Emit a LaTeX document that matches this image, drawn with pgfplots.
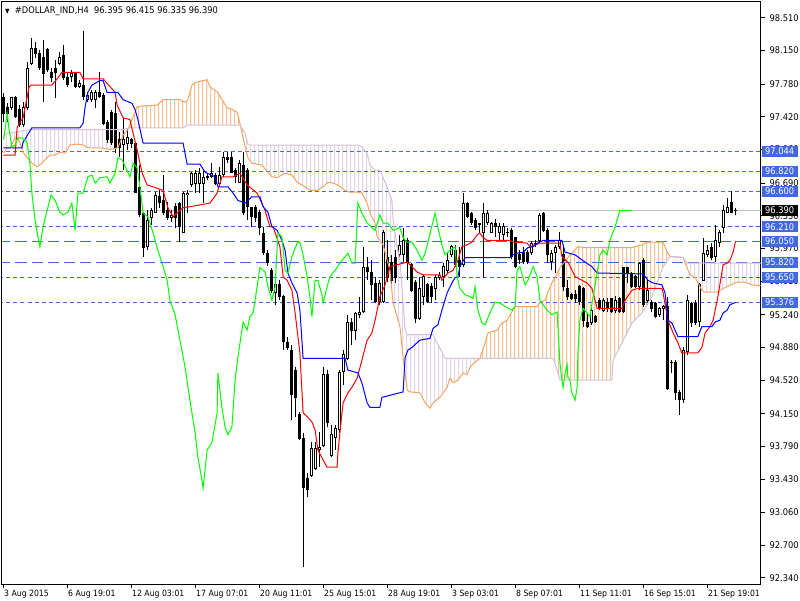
\documentclass[border=0pt]{standalone}
\usepackage{fontspec}
\setmainfont{DejaVu Sans}[FakeStretch=0.9]
\usepackage{pgfplots}
\pgfplotsset{compat=1.18}
\usepackage{pgfplotstable}
\usepgfplotslibrary{fillbetween}
\usetikzlibrary{patterns}
\definecolor{sandy}{RGB}{244,164,96}
\definecolor{thist}{RGB}{216,191,216}
\definecolor{lvl}{RGB}{65,105,225}
\definecolor{bidc}{RGB}{192,192,192}
\definecolor{limeg}{RGB}{0,255,0}
\definecolor{redl}{RGB}{255,0,0}
\definecolor{bluel}{RGB}{0,0,255}

\pgfdeclarepatternformonly{vhatch}{\pgfpoint{0pt}{0pt}}{\pgfpoint{4pt}{700pt}}{\pgfpoint{4pt}{700pt}}{%
  \pgfsetlinewidth{1pt}%
  \pgfpathmoveto{\pgfpoint{3.5pt}{0pt}}%
  \pgfpathlineto{\pgfpoint{3.5pt}{700pt}}%
  \pgfusepath{stroke}%
}

\pgfplotstableread{
i O H L C
0 97.64 97.68 97.36 97.46
1 97.52 97.57 97.36 97.46
2 97.52 97.64 97.50 97.63
3 97.63 97.65 97.41 97.42
4 97.50 97.55 97.31 97.33
5 97.33 97.58 97.31 97.52
6 97.52 98.02 97.50 97.96
7 98.01 98.29 97.99 98.18
8 98.18 98.25 98.07 98.12
9 98.12 98.16 97.94 97.96
10 98.08 98.27 97.58 97.90
11 98.16 98.18 97.91 97.94
12 97.91 97.96 97.80 97.85
13 97.96 98.05 97.63 97.91
14 98.01 98.14 97.99 98.08
15 98.10 98.21 97.83 97.85
16 97.86 97.90 97.75 97.77
17 97.86 97.94 97.80 97.90
18 97.90 97.91 97.74 97.75
19 97.75 97.83 97.74 97.79
20 97.77 98.37 97.61 97.64
21 97.61 97.69 97.58 97.66
22 97.61 97.72 97.58 97.69
23 97.61 97.72 97.52 97.69
24 97.69 97.91 97.63 97.64
25 97.66 97.68 97.33 97.35
26 97.36 97.39 97.13 97.17
27 97.47 97.50 97.11 97.14
28 97.46 97.58 97.02 97.08
29 97.17 97.25 96.98 97.08
30 97.11 97.41 96.83 97.17
31 97.13 97.30 97.06 97.19
32 97.17 97.19 97.08 97.13
33 97.13 97.14 96.58 96.59
34 96.64 96.89 96.32 96.34
35 96.36 96.37 95.88 95.98
36 95.99 96.39 95.95 96.28
37 96.31 96.42 96.23 96.39
38 96.37 96.59 96.36 96.56
39 96.54 96.61 96.42 96.48
40 96.50 96.78 96.34 96.37
41 96.39 96.48 96.28 96.31
42 96.31 96.39 96.26 96.34
43 96.43 96.47 96.20 96.31
44 96.47 96.48 96.04 96.21
45 96.15 96.59 96.14 96.58
46 96.56 96.61 96.36 96.58
47 96.67 96.81 96.65 96.80
48 96.69 96.83 96.58 96.80
49 96.69 96.86 96.58 96.80
50 96.69 96.83 96.47 96.75
51 96.76 96.80 96.72 96.75
52 96.76 96.91 96.75 96.80
53 96.78 96.80 96.67 96.69
54 96.69 96.87 96.67 96.78
55 96.78 97.03 96.76 96.97
56 96.97 97.03 96.91 96.95
57 96.97 97.03 96.80 96.81
58 96.83 96.86 96.69 96.76
59 96.70 96.95 96.69 96.91
60 96.89 97.03 96.34 96.36
61 96.83 96.86 96.28 96.43
62 96.42 96.43 96.21 96.32
63 96.42 96.45 96.26 96.31
64 96.37 96.39 96.12 96.20
65 96.14 96.21 95.90 95.92
66 95.92 95.95 95.78 95.81
67 95.73 95.76 95.48 95.51
68 95.48 95.66 95.35 95.57
69 95.57 95.62 95.40 95.44
70 95.44 95.46 94.85 94.94
71 94.94 95.00 94.85 94.88
72 94.85 94.91 94.08 94.36
73 94.63 94.66 94.11 94.33
74 94.14 94.17 93.86 93.88
75 93.88 93.94 92.46 93.33
76 93.44 93.50 93.23 93.31
77 93.47 93.84 93.45 93.77
78 93.55 93.84 93.53 93.77
79 93.75 93.95 93.56 93.78
80 93.80 94.66 93.78 94.58
81 94.58 94.63 94.00 94.05
82 93.69 94.03 93.67 93.92
83 93.89 94.03 93.75 93.99
84 93.97 94.63 93.94 94.61
85 94.61 94.85 94.47 94.80
86 94.76 95.24 94.74 95.16
87 95.16 95.20 94.91 95.07
88 95.07 95.27 94.96 95.26
89 95.24 95.44 95.20 95.27
90 95.27 95.99 95.26 95.76
91 95.76 95.88 95.62 95.71
92 95.71 95.84 95.40 95.57
93 95.59 95.66 95.37 95.38
94 95.38 95.62 95.35 95.59
95 95.38 96.17 95.37 96.15
96 95.87 96.06 95.60 95.65
97 95.82 95.90 95.57 95.62
98 95.87 95.95 95.59 95.65
99 95.90 96.12 95.84 96.01
100 95.90 96.20 95.82 96.06
101 96.06 96.09 95.62 95.81
102 95.79 95.81 95.49 95.51
103 95.60 95.62 95.15 95.20
104 95.20 95.66 95.18 95.53
105 95.44 95.68 95.35 95.66
106 95.57 95.59 95.37 95.38
107 95.55 95.59 95.37 95.44
108 95.53 95.68 95.40 95.65
109 95.65 95.71 95.62 95.67
110 95.66 95.81 95.55 95.77
111 95.73 95.92 95.70 95.84
112 95.90 96.01 95.88 95.99
113 95.95 96.01 95.77 95.79
114 95.84 95.99 95.66 95.77
115 95.79 96.58 95.77 96.47
116 96.47 96.48 96.31 96.32
117 96.36 96.37 96.23 96.25
118 96.28 96.31 96.17 96.20
119 96.25 96.25 96.14 96.23
120 96.15 96.47 95.65 96.36
121 96.25 96.39 96.23 96.36
122 96.15 96.26 96.14 96.25
123 96.25 96.30 96.10 96.21
124 96.15 96.25 96.05 96.21
125 96.12 96.25 96.06 96.21
126 96.14 96.20 96.10 96.15
127 96.17 96.20 95.85 95.88
128 96.09 96.10 95.75 95.77
129 95.90 95.95 95.80 95.85
130 95.93 95.99 95.80 95.82
131 95.93 95.95 95.80 95.82
132 95.92 96.05 95.90 96.03
133 96.01 96.06 95.99 96.03
134 96.06 96.36 96.04 96.34
135 96.36 96.37 96.15 96.17
136 96.17 96.20 95.81 95.90
137 95.82 95.95 95.73 95.92
138 95.92 96.01 95.70 95.98
139 95.99 96.15 95.97 96.06
140 95.90 96.01 95.50 95.55
141 95.53 95.62 95.40 95.44
142 95.46 95.48 95.40 95.42
143 95.47 95.51 95.37 95.42
144 95.55 95.57 95.35 95.38
145 95.53 95.55 95.11 95.18
146 95.16 95.26 95.09 95.11
147 95.15 95.31 95.13 95.29
148 95.22 95.24 95.15 95.16
149 95.40 95.42 95.29 95.31
150 95.29 95.42 95.27 95.40
151 95.38 95.42 95.27 95.31
152 95.42 95.43 95.26 95.27
153 95.29 95.45 95.26 95.40
154 95.42 95.44 95.26 95.27
155 95.76 95.77 95.26 95.27
156 95.76 95.77 95.59 95.70
157 95.70 95.71 95.53 95.55
158 95.66 95.68 95.53 95.55
159 95.55 95.82 95.51 95.81
160 95.84 95.87 95.33 95.35
161 95.40 95.62 95.35 95.51
162 95.38 95.40 95.27 95.31
163 95.37 95.38 95.20 95.22
164 95.24 95.33 95.22 95.31
165 95.31 95.35 95.18 95.33
166 95.33 95.44 94.41 94.43
167 94.72 94.74 94.60 94.71
168 94.72 94.74 94.30 94.38
169 94.38 94.41 94.14 94.30
170 94.30 94.88 94.27 94.85
171 94.83 95.46 94.80 95.40
172 95.37 95.38 95.11 95.15
173 95.37 95.40 95.13 95.15
174 95.16 95.59 95.11 95.57
175 95.62 96.09 95.62 95.92
176 95.90 96.01 95.88 95.95
177 95.98 96.03 95.84 95.87
178 95.88 96.23 95.82 96.06
179 96.04 96.17 95.99 96.15
180 96.20 96.45 96.14 96.39
181 96.37 96.53 96.36 96.42
182 96.48 96.60 96.36 96.37
183 96.395 96.415 96.335 96.390
}\candles

\newcommand{\spanA}{(0,97.02)(0.9,97.08)(1.6,97.08)(2.9,97.19)(3.6,97.19)(4.9,97.03)(5.9,96.97)(7.1,96.91)(8.4,96.87)(9.6,96.91)(10.9,96.97)(11.6,97.00)(12.9,97.00)(14.1,97.03)(15.4,97.02)(16.6,97.11)(18.4,97.12)(19.9,97.11)(21.1,97.08)(24.1,97.08)(26.6,97.06)(28.6,97.08)(29.9,97.22)(31.1,97.28)(32.4,97.42)(33.4,97.53)(34.6,97.54)(38.4,97.55)(39.9,97.61)(44.1,97.61)(45.4,97.58)(46.1,97.61)(47.1,97.77)(47.9,97.80)(50.9,97.83)(51.6,97.75)(53.6,97.69)(54.6,97.61)(55.9,97.52)(57.4,97.50)(58.4,97.47)(59.1,97.35)(60.4,97.09)(61.1,96.97)(62.1,96.91)(64.6,96.89)(67.1,96.76)(68.4,96.75)(70.4,96.80)(72.1,96.78)(73.4,96.70)(75.4,96.65)(76.6,96.61)(78.4,96.61)(79.9,96.65)(81.1,96.70)(82.4,96.69)(83.6,96.67)(85.4,96.61)(86.6,96.59)(88.6,96.59)(89.6,96.58)(90.9,96.47)(91.6,96.36)(92.9,96.25)(93.4,96.10)(94.9,96.01)(96.6,95.73)(97.4,95.37)(99.1,95.11)(99.9,94.77)(100.9,94.41)(101.6,94.39)(104.1,94.38)(105.4,94.27)(106.6,94.21)(107.4,94.27)(109.1,94.33)(110.9,94.44)(111.6,94.54)(112.4,94.49)(113.6,94.52)(114.9,94.60)(115.9,94.58)(116.6,94.66)(117.9,94.72)(119.1,94.76)(120.4,94.93)(121.1,95.04)(123.4,95.07)(124.6,95.15)(125.9,95.18)(127.1,95.27)(127.9,95.33)(133.4,95.33)(134.1,95.38)(135.4,95.40)(136.1,95.49)(137.1,95.59)(137.9,95.65)(139.1,95.76)(141.1,95.87)(143.6,95.99)(145.4,95.98)(157.1,95.98)(159.6,96.01)(160.9,96.04)(164.9,96.04)(165.9,95.93)(166.6,95.88)(169.9,95.87)(171.6,95.68)(172.9,95.65)(174.6,95.51)(175.4,95.49)(178.6,95.49)(179.9,95.53)(183.4,95.60)(185.4,95.60)(187.1,95.57)(189.25,95.56)}

\newcommand{\spanB}{(0,97.22)(0.9,97.24)(6.6,97.28)(29.9,97.28)(31.6,97.30)(44.9,97.30)(45.9,97.33)(59.1,97.33)(60.4,97.24)(61.1,97.12)(61.6,97.11)(88.6,97.11)(89.6,97.09)(90.9,97.02)(91.6,96.89)(92.9,96.83)(94.1,96.83)(95.9,96.65)(97.1,96.50)(97.4,96.28)(98.4,95.99)(99.1,95.84)(99.9,95.37)(100.4,95.07)(100.9,95.02)(107.4,95.02)(108.4,94.93)(110.4,94.76)(137.4,94.76)(138.4,94.63)(139.1,94.52)(152.1,94.52)(152.4,94.74)(154.6,94.93)(157.1,95.15)(159.6,95.26)(162.1,95.44)(163.6,95.62)(164.9,95.77)(166.6,95.88)(168.4,95.88)(169.9,95.87)(170.9,95.81)(189.25,95.81)}

\begin{document}
\begin{tikzpicture}[x=1pt,y=1pt]
\begin{axis}[
  name=ax,
  at={(2,16)}, anchor=south west,
  scale only axis, width=758.5pt, height=582pt,
  xmin=-0.375, xmax=189.25, ymin=92.2735, ymax=98.686,
  axis line style={line width=1pt, black},
  tick align=outside, major tick length=4pt,
  tick style={black, line width=1pt},
  xtick pos=left, ytick pos=right, yticklabel pos=right,
  ytick={92.34,92.70,93.06,93.43,93.79,94.15,94.52,94.88,95.24,95.61,95.97,96.33,96.69,97.06,97.42,97.78,98.15,98.51},
  yticklabel={\pgfmathprintnumber[fixed,fixed zerofill,precision=3]{\tick}},
  xtick={0,16,32,48,64,80,96,112,128,144,160,176},
  xticklabels={3 Aug 2015,6 Aug 19:01,12 Aug 03:01,17 Aug 07:01,20 Aug 11:01,25 Aug 15:01,28 Aug 19:01,3 Sep 03:01,8 Sep 07:01,11 Sep 11:01,16 Sep 15:01,21 Sep 19:01},
  yticklabel style={font=\fontsize{9.2}{11}\selectfont, black, anchor=west, inner sep=0pt, xshift=5pt},
  xticklabel style={font=\fontsize{8.6}{10}\selectfont, black, anchor=north west, inner sep=0pt, xshift=0.5pt, yshift=-2pt},
  clip mode=individual,
  /pgf/number format/assume math mode=true,
]
% level lines
\addplot[lvl, line width=1pt, dash pattern=on 4pt off 3pt] coordinates {(-1,97.044)(190,97.044)};
\addplot[lvl, line width=1pt, dash pattern=on 4pt off 3pt] coordinates {(-1,96.820)(190,96.820)};
\addplot[lvl, line width=1pt, dash pattern=on 4pt off 3pt] coordinates {(-1,96.600)(190,96.600)};
\addplot[lvl, line width=1pt, dash pattern=on 4pt off 3pt] coordinates {(-1,96.210)(190,96.210)};
\addplot[lvl, line width=1pt, dash pattern=on 11pt off 5pt] coordinates {(-1,96.050)(190,96.050)};
\addplot[lvl, line width=1pt, dash pattern=on 11pt off 5pt] coordinates {(-1,95.820)(190,95.820)};
\addplot[lvl, line width=1pt, dash pattern=on 4pt off 3pt] coordinates {(-1,95.650)(190,95.650)};
\addplot[lvl, line width=1pt, dash pattern=on 4pt off 3pt] coordinates {(-1,95.376)(190,95.376)};
\addplot[bidc, line width=1pt] coordinates {(-1,96.390)(190,96.390)};
% cloud
\addplot[draw=none, name path=A] coordinates {\spanA};
\addplot[draw=none, name path=B] coordinates {\spanB};
\addplot[draw=none, pattern=vhatch, pattern color=thist] fill between[of=A and B, soft clip={domain=0:31.2}];
\addplot[draw=none, pattern=vhatch, pattern color=sandy] fill between[of=A and B, soft clip={domain=31.2:59.2}];
\addplot[draw=none, pattern=vhatch, pattern color=thist] fill between[of=A and B, soft clip={domain=59.2:119.1}];
\addplot[draw=none, pattern=vhatch, pattern color=sandy] fill between[of=A and B, soft clip={domain=119.1:166.6}];
\addplot[draw=none, pattern=vhatch, pattern color=thist] fill between[of=A and B, soft clip={domain=166.6:189.25}];
% candles: wicks
\addplot[only marks, mark=*, mark size=0pt, mark options={draw=none, fill=none},
  error bars/.cd, y dir=plus, y explicit, error mark=none,
  error bar style={line width=1pt, black}]
  table[x=i, y=L, y error plus expr={\thisrow{H}-\thisrow{L}}] \candles;
% bodies
\addplot[only marks, mark=*, mark size=0pt, mark options={draw=none, fill=none},
  error bars/.cd, y dir=plus, y explicit, error mark=none,
  error bar style={line width=3pt, black}]
  table[x=i, y expr={min(\thisrow{O},\thisrow{C})-0.004}, y error plus expr={max(abs(\thisrow{C}-\thisrow{O}),0.003)+0.008}] \candles;
% white interior of rising candles
\addplot[only marks, mark=*, mark size=0pt, mark options={draw=none, fill=none},
  restrict expr to domain={\thisrow{C}-\thisrow{O}}{0.02:100},
  error bars/.cd, y dir=plus, y explicit, error mark=none,
  error bar style={line width=1pt, white}]
  table[x=i, y expr={\thisrow{O}+0.007}, y error plus expr={\thisrow{C}-\thisrow{O}-0.014}] \candles;
% ichimoku lines
\addplot[sandy, line width=1pt] coordinates {\spanA};
\addplot[thist, line width=1pt] coordinates {\spanB};
\addplot[redl, line width=1pt] coordinates {(0,97.00)(2.9,97.00)(3.4,97.30)(4.1,97.36)(4.9,97.41)(6.4,97.75)(6.9,97.77)(12.1,97.77)(13.6,97.85)(14.6,97.91)(19.1,97.91)(19.9,97.84)(24.9,97.84)(27.9,97.69)(28.4,97.55)(29.9,97.41)(31.6,97.39)(32.4,97.24)(33.4,97.06)(34.6,96.81)(35.9,96.67)(37.4,96.65)(39.9,96.61)(41.1,96.42)(42.4,96.32)(43.6,96.37)(44.9,96.42)(46.6,96.43)(49.1,96.45)(51.6,96.47)(53.4,96.58)(54.6,96.76)(57.4,96.76)(59.1,96.80)(60.9,96.67)(63.4,96.58)(65.4,96.39)(66.6,96.21)(67.4,96.21)(69.1,95.99)(69.9,95.66)(70.9,95.62)(72.1,95.51)(72.9,95.26)(74.1,94.82)(74.9,94.16)(76.1,94.11)(77.1,94.06)(77.9,93.97)(78.6,93.75)(79.9,93.64)(80.9,93.56)(83.4,93.56)(83.6,93.72)(84.1,93.94)(84.9,94.27)(86.1,94.38)(87.1,94.44)(88.4,94.54)(89.6,94.74)(90.9,94.96)(92.1,95.04)(92.9,95.18)(94.1,95.44)(95.4,95.57)(96.6,95.77)(100.9,95.82)(102.1,95.77)(103.4,95.71)(104.9,95.68)(109.1,95.68)(109.6,95.62)(111.1,95.70)(112.4,95.73)(113.6,95.84)(114.6,95.99)(115.9,96.01)(117.1,96.04)(118.4,96.12)(119.1,96.14)(119.9,96.09)(120.9,96.06)(126.6,96.06)(127.4,96.04)(130.9,96.03)(131.6,95.99)(132.9,96.01)(134.1,96.03)(139.1,96.03)(139.6,95.88)(141.1,95.82)(142.9,95.66)(144.6,95.62)(145.9,95.59)(147.1,95.53)(148.4,95.31)(154.6,95.31)(155.4,95.40)(157.1,95.51)(158.6,95.53)(164.6,95.53)(164.9,95.48)(166.1,95.18)(167.4,95.04)(168.6,94.93)(169.6,94.82)(173.6,94.82)(174.6,94.88)(175.4,95.04)(176.6,95.11)(177.4,95.18)(178.6,95.44)(179.9,95.79)(180.9,95.81)(181.6,95.84)(182.4,95.93)(183,96.05)};
\addplot[bluel, line width=1pt] coordinates {(0,97.08)(4.6,97.08)(4.9,97.14)(7.1,97.30)(19.1,97.30)(19.9,97.35)(20.4,97.53)(21.1,97.69)(22.1,97.77)(24.1,97.82)(24.9,97.82)(25.9,97.69)(28.6,97.69)(29.9,97.61)(32.1,97.57)(32.9,97.50)(33.6,97.39)(34.9,97.13)(44.9,97.13)(45.9,96.90)(49.1,96.90)(50.4,96.81)(52.9,96.76)(53.6,96.65)(56.1,96.65)(57.4,96.58)(58.6,96.50)(60.4,96.47)(62.1,96.54)(64.1,96.54)(64.9,96.43)(66.1,96.37)(67.1,96.21)(68.4,96.17)(69.6,96.06)(70.4,95.95)(71.1,95.70)(72.1,95.59)(73.4,95.48)(74.1,95.29)(74.9,94.76)(85.4,94.76)(86.1,94.63)(88.6,94.60)(89.6,94.49)(90.9,94.27)(91.6,94.22)(94.1,94.22)(94.6,94.33)(99.9,94.39)(100.4,94.77)(101.1,94.85)(102.1,94.88)(104.1,94.96)(106.6,94.98)(107.4,95.09)(108.6,95.13)(109.6,95.29)(110.9,95.48)(112.1,95.59)(112.9,95.65)(113.6,95.66)(114.1,95.77)(115.4,95.87)(126.6,95.87)(127.4,95.90)(128.6,95.92)(129.9,95.93)(131.1,95.98)(132.4,95.99)(133.6,96.03)(134.9,96.06)(139.6,96.06)(140.4,95.93)(142.9,95.90)(145.4,95.82)(147.1,95.77)(148.4,95.70)(159.9,95.69)(161.1,95.62)(162.4,95.59)(164.6,95.57)(165.4,95.48)(166.1,95.18)(167.1,95.15)(168.6,95.00)(173.6,95.00)(174.6,95.11)(177.1,95.11)(177.9,95.16)(179.1,95.18)(179.9,95.26)(180.9,95.29)(181.6,95.35)(183,95.376)};
\addplot[limeg, line width=1pt] coordinates {(0,97.17)(0.4,97.28)(0.9,97.46)(1.4,97.28)(2.1,97.09)(2.9,97.11)(3.6,97.19)(4.6,97.19)(5.9,97.14)(6.6,96.91)(7.1,96.58)(7.9,96.28)(8.6,96.10)(9.1,95.99)(9.9,96.21)(10.9,96.39)(11.9,96.56)(12.9,96.50)(14.1,96.37)(14.9,96.34)(16.1,96.37)(17.1,96.47)(17.9,96.17)(18.6,96.58)(19.9,96.58)(21.1,96.76)(22.1,96.78)(22.9,96.69)(24.1,96.75)(25.9,96.76)(26.6,96.69)(27.9,96.80)(28.6,96.97)(29.6,96.95)(30.6,96.86)(31.6,96.76)(32.4,96.91)(33.4,96.86)(34.1,96.65)(34.9,96.36)(36.1,96.32)(37.4,96.14)(38.6,95.95)(39.9,95.77)(40.9,95.62)(41.6,95.40)(42.9,95.24)(44.1,94.96)(45.4,94.66)(46.6,94.30)(47.9,93.94)(48.6,93.67)(49.6,93.42)(49.9,93.33)(50.9,93.75)(52.1,93.83)(53.4,94.16)(53.6,94.60)(54.6,94.22)(55.4,94.00)(56.1,93.92)(57.1,94.00)(57.9,94.52)(58.6,94.77)(59.9,95.16)(60.9,95.07)(61.6,95.22)(62.4,95.26)(63.4,95.55)(64.1,95.76)(65.4,95.71)(66.1,95.55)(67.1,95.40)(67.9,95.55)(68.6,96.14)(69.6,96.10)(70.4,95.73)(71.1,95.70)(72.1,95.88)(73.4,96.03)(74.1,96.04)(74.9,95.90)(75.9,95.66)(76.6,95.44)(77.1,95.22)(77.9,95.62)(78.6,95.62)(79.6,95.46)(79.9,95.37)(80.9,95.55)(81.6,95.66)(82.9,95.73)(84.1,95.81)(85.4,95.88)(86.1,95.92)(87.1,95.81)(87.9,95.81)(88.6,96.47)(89.6,96.36)(90.9,96.25)(92.1,96.20)(92.9,96.17)(94.1,96.34)(94.9,96.25)(96.1,96.25)(97.4,96.17)(99.1,96.20)(99.9,96.09)(100.9,96.04)(102.1,96.04)(103.4,95.95)(104.6,95.84)(105.4,95.92)(106.1,96.04)(107.9,96.36)(108.6,96.20)(109.6,96.01)(110.4,95.90)(111.6,95.95)(112.9,95.99)(113.4,95.66)(114.1,95.53)(115.4,95.46)(116.6,95.44)(117.4,95.42)(117.9,95.55)(118.6,95.29)(119.6,95.15)(120.4,95.13)(121.6,95.26)(122.9,95.38)(124.1,95.37)(125.4,95.33)(127.1,95.29)(127.9,95.33)(128.4,95.73)(129.1,95.77)(130.4,95.57)(131.1,95.62)(132.4,95.77)(133.4,95.66)(134.1,95.40)(135.9,95.29)(137.1,95.24)(138.4,95.27)(139.1,94.71)(139.6,94.52)(139.9,94.44)(140.4,94.60)(140.9,94.69)(141.1,94.55)(141.6,94.52)(142.1,94.38)(142.9,94.30)(143.4,94.44)(143.6,94.82)(144.1,95.18)(144.9,95.31)(145.9,95.26)(146.6,95.22)(147.4,95.44)(148.4,95.70)(149.1,95.90)(149.9,95.95)(150.9,95.90)(151.6,96.06)(152.9,96.21)(154.1,96.39)(157,96.39)};
% label anchors
\coordinate (l1) at (axis cs:189.25,97.044);
\coordinate (l2) at (axis cs:189.25,96.820);
\coordinate (l3) at (axis cs:189.25,96.600);
\coordinate (l4) at (axis cs:189.25,96.390);
\coordinate (l5) at (axis cs:189.25,96.210);
\coordinate (l6) at (axis cs:189.25,96.050);
\coordinate (l7) at (axis cs:189.25,95.820);
\coordinate (l8) at (axis cs:189.25,95.650);
\coordinate (l9) at (axis cs:189.25,95.376);
\end{axis}
\tikzset{plbl/.style={fill=lvl, text=white, anchor=west, minimum width=36pt, minimum height=11pt, inner sep=0pt, font=\fontsize{9.2}{11}\selectfont}}
\node[plbl] at ([xshift=1pt]l1) {97.044};
\node[plbl] at ([xshift=1pt]l2) {96.820};
\node[plbl] at ([xshift=1pt]l3) {96.600};
\node[plbl, fill=black] at ([xshift=1pt]l4) {96.390};
\node[plbl] at ([xshift=1pt]l5) {96.210};
\node[plbl] at ([xshift=1pt]l6) {96.050};
\node[plbl] at ([xshift=1pt]l7) {95.820};
\node[plbl] at ([xshift=1pt]l8) {95.650};
\node[plbl] at ([xshift=1pt]l9) {95.376};
\node[anchor=base west, inner sep=0pt, font=\fontsize{9.2}{11}\selectfont] at ([shift={(3,570)}]ax.south west) {{\fontsize{6.5}{7}\selectfont ▼}\ \ \#DOLLAR\_IND,H4\ \ 96.395 96.415 96.335 96.390};
\pgfresetboundingbox
\path[use as bounding box] ([shift={(-2,-16)}]ax.south west) rectangle ++(800,600);
\end{tikzpicture}
\end{document}
